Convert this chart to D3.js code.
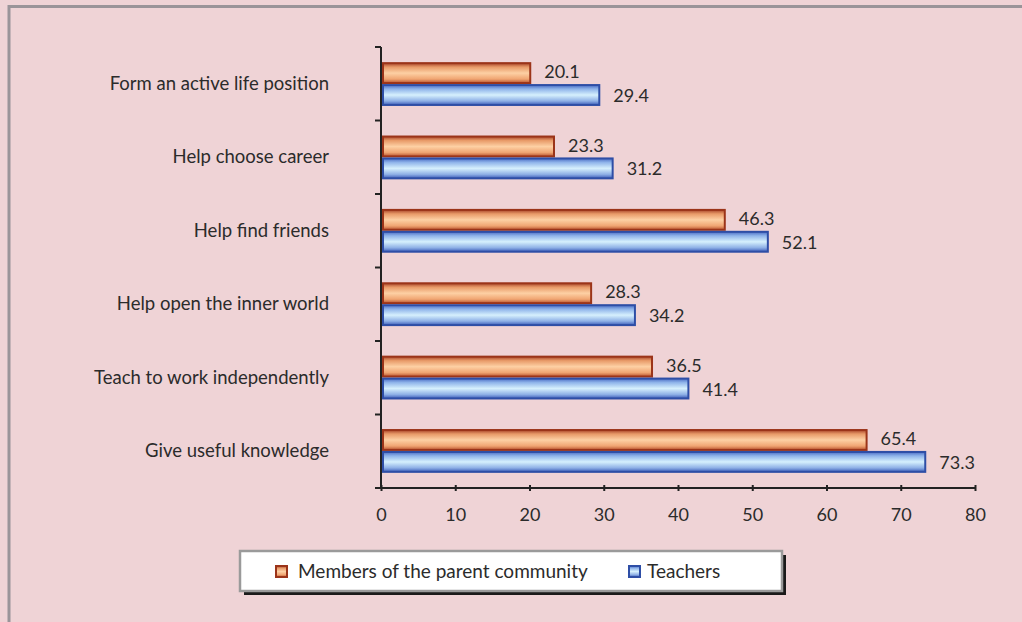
<!DOCTYPE html>
<html><head><meta charset="utf-8">
<script src="https://cdn.jsdelivr.net/npm/d3@7"></script>
<style>
html,body{margin:0;padding:0;background:#efd3d6;}
svg{display:block;font-family:Lato, "Open Sans", sans-serif;}
</style></head>
<body>
<svg id="c" width="1022" height="622"></svg>
<script>
const categories = ["Form an active life position","Help choose career","Help find friends","Help open the inner world","Teach to work independently","Give useful knowledge"];
const parentValues = [20.1, 23.3, 46.3, 28.3, 36.5, 65.4];
const teacherValues = [29.4, 31.2, 52.1, 34.2, 41.4, 73.3];
const seriesNames = ["Members of the parent community","Teachers"];
const xTicks = [0,10,20,30,40,50,60,70,80];

const svg = d3.select("#c");
// frame
svg.append("rect").attr("x",9).attr("y",6.5).attr("width",1100).attr("height",700)
  .attr("fill","none").attr("stroke","#9a9499").attr("stroke-width",3);

const defs = svg.append("defs");
const og = defs.append("linearGradient").attr("id","gOr").attr("x1",0).attr("y1",0).attr("x2",0).attr("y2",1);
[[0,"#a8452a"],[0.2,"#e89a68"],[0.5,"#fdd0a4"],[0.8,"#f0a572"],[1,"#b8532e"]].forEach(s=>og.append("stop").attr("offset",s[0]).attr("stop-color",s[1]));
const bg = defs.append("linearGradient").attr("id","gBl").attr("x1",0).attr("y1",0).attr("x2",0).attr("y2",1);
[[0,"#4a6cc4"],[0.2,"#8fb4ea"],[0.5,"#d6f0fd"],[0.8,"#8eb0e6"],[1,"#3c5cb8"]].forEach(s=>bg.append("stop").attr("offset",s[0]).attr("stop-color",s[1]));

const x = d3.scaleLinear().domain([0,80]).range([381,975]);
const y = d3.scaleBand().domain(categories).range([47,488]).paddingInner(0.43).paddingOuter(0.22);
const yTick = d3.scaleBand().domain(categories).range([47,488]);

// x axis
const xa = svg.append("g").attr("transform","translate(0,488)")
  .call(d3.axisBottom(x).tickValues(xTicks).tickSize(6).tickPadding(14));
xa.select(".domain").attr("stroke","#222").attr("stroke-width",2).attr("d","M381,0H975");
xa.selectAll(".tick line").attr("stroke","#222").attr("stroke-width",2).attr("y1",-3).attr("y2",3);
xa.selectAll(".tick text").attr("font-size",18).attr("fill","#2b2b2b").attr("font-family","Lato, sans-serif");

// y axis line + ticks at band boundaries
svg.append("line").attr("x1",381).attr("x2",381).attr("y1",47).attr("y2",488).attr("stroke","#222").attr("stroke-width",2);
const bounds = categories.map(c=>yTick(c)).concat([488]);
svg.selectAll(".ytick").data(bounds).join("line").attr("x1",375).attr("x2",381)
  .attr("y1",d=>d).attr("y2",d=>d).attr("stroke","#222").attr("stroke-width",2);

// category labels
svg.selectAll(".cat").data(categories).join("text")
  .attr("x",329).attr("y",d=>yTick(d)+yTick.bandwidth()/2+1.5)
  .attr("text-anchor","end").attr("dominant-baseline","middle")
  .attr("font-size",18.5).attr("fill","#2b2b2b").text(d=>d);

const bh = y.bandwidth()/2;
const g = svg.append("g");
categories.forEach((c,i)=>{
  const y0 = y(c);
  g.append("rect").attr("x",x(0)+2).attr("y",y0).attr("width",x(parentValues[i])-x(0)-2).attr("height",bh-1)
    .attr("fill","url(#gOr)").attr("stroke","#9b3419").attr("stroke-width",2);
  g.append("rect").attr("x",x(0)+2).attr("y",y0+bh+1).attr("width",x(teacherValues[i])-x(0)-2).attr("height",bh-1)
    .attr("fill","url(#gBl)").attr("stroke","#2e4ea6").attr("stroke-width",2);
  g.append("text").attr("x",x(parentValues[i])+14).attr("y",y0+bh/2).attr("dominant-baseline","middle")
    .attr("font-size",18).attr("fill","#2b2b2b").text(parentValues[i].toFixed(1));
  g.append("text").attr("x",x(teacherValues[i])+14).attr("y",y0+bh*1.5+3).attr("dominant-baseline","middle")
    .attr("font-size",18).attr("fill","#2b2b2b").text(teacherValues[i].toFixed(1));
});

// legend
const lg = svg.append("g");
lg.append("rect").attr("x",244).attr("y",555).attr("width",542).attr("height",40).attr("fill","#1a1a1a");
lg.append("rect").attr("x",240).attr("y",551).attr("width",542).attr("height",40).attr("fill","#fff").attr("stroke","#9a9a9a").attr("stroke-width",2.5);
const items = [{n:seriesNames[0],f:"url(#gOr)",s:"#9b3419",x:276,tx:298},{n:seriesNames[1],f:"url(#gBl)",s:"#2e4ea6",x:629,tx:647}];
items.forEach(it=>{
  lg.append("rect").attr("x",it.x).attr("y",566).attr("width",11).attr("height",11).attr("fill",it.f).attr("stroke",it.s).attr("stroke-width",2);
  lg.append("text").attr("x",it.tx).attr("y",573).attr("dominant-baseline","middle").attr("font-size",19).attr("fill","#2b2b2b").text(it.n);
});
</script>
</body></html>
